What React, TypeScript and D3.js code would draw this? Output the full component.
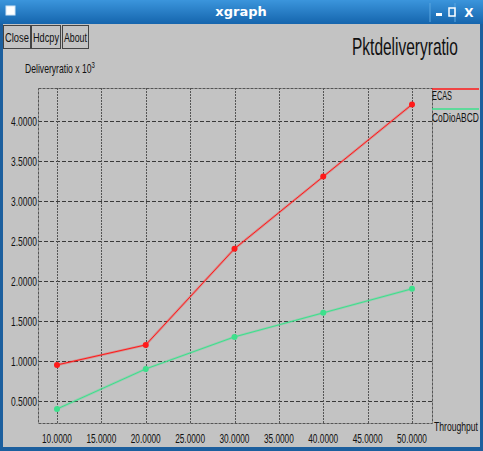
import React, { useLayoutEffect, useRef, useState } from "react";
import * as d3 from "d3";

const xTicks = [10, 15, 20, 25, 30, 35, 40, 45, 50];
const yTicks = [0.5, 1.0, 1.5, 2.0, 2.5, 3.0, 3.5, 4.0];
const xValues = [10, 20, 30, 40, 50];
const ecas = [0.95, 1.2, 2.4, 3.3, 4.2];
const codio = [0.4, 0.9, 1.3, 1.6, 1.9];
const seriesNames = ["ECAS", "CoDioABCD"];
const seriesColors = ["#ff1a1a", "#3de08c"];
const buttons = ["Close", "Hdcpy", "About"];

const W = 483;
const H = 451;
const FONT = "'Liberation Sans', Arial, sans-serif";

function NText(props: { x: number; y: number; w: number; fs: number; anchor?: string; children: React.ReactNode }) {
  const ref = useRef<SVGTextElement>(null);
  const [s, setS] = useState(1);
  useLayoutEffect(() => {
    if (ref.current) {
      const L = ref.current.getComputedTextLength();
      if (L > 0) setS(props.w / L);
    }
  }, [props.w]);
  const tx = props.anchor === "middle" ? props.x - props.w / 2 : props.x;
  return (
    <text ref={ref} transform={`translate(${tx},${props.y}) scale(${s},1)`} fontSize={props.fs} fill="#111">
      {props.children}
    </text>
  );
}

export default function App() {
  const plotL = 38, plotR = 432, plotT = 88, plotB = 423;
  const x = d3.scaleLinear().domain([10, 50]).range([57, 412]);
  const y = d3.scaleLinear().domain([0.5, 4.0]).range([401, 120.5]);
  const line = d3.line<number>().x((_, i) => x(xValues[i])).y((d) => y(d));
  const series = [ecas, codio];
  const btnX = [3, 31, 62];
  const btnW = [27, 29, 26];
  const btnTL = [24, 26, 23];
  const legTL = [20, 47];

  return (
    <svg width={W} height={H} style={{ position: "absolute", left: 0, top: 0, display: "block" }} fontFamily={FONT}>
      <defs>
        <linearGradient id="tb" x1="0" y1="0" x2="0" y2="1">
          <stop offset="0" stopColor="#3b95dc" />
          <stop offset="1" stopColor="#1565ad" />
        </linearGradient>
      </defs>
      {/* window frame */}
      <rect x={0} y={0} width={W} height={H} fill="#1c5f9e" />
      <rect x={0} y={0} width={W} height={24} fill="url(#tb)" />
      <rect x={3} y={24} width={477} height={423} fill="#c3c3c3" />
      {/* title bar */}
      <rect x={6} y={6} width={9} height={9} fill="#ffffff" stroke="#d0e4f5" />
      <text x={241} y={16} textAnchor="middle" fill="#ffffff" fontSize={13} fontWeight="bold" fontFamily="'DejaVu Sans', sans-serif">xgraph</text>
      <line x1={430} y1={3} x2={430} y2={22} stroke="#5aa6e0" />
      <line x1={455} y1={3} x2={455} y2={22} stroke="#5aa6e0" />
      <rect x={436} y={13} width={6} height={3} fill="#ffffff" />
      <rect x={449} y={8} width={6} height={8} fill="none" stroke="#ffffff" strokeWidth={1.5} />
      <text x={469} y={17} textAnchor="middle" fill="#ffffff" fontSize={12} fontWeight="bold" fontFamily="'DejaVu Sans', sans-serif">X</text>
      {/* buttons */}
      {buttons.map((b, i) => (
        <g key={b}>
          <rect x={btnX[i] + 0.5} y={25.5} width={btnW[i]} height={23} fill="#c3c3c3" stroke="#444" />
          <NText x={btnX[i] + btnW[i] / 2 + 0.5} y={42} w={btnTL[i]} fs={13} anchor="middle">{b}</NText>
        </g>
      ))}
      <NText x={352} y={55} w={106} fs={24}>Pktdeliveryratio</NText>
      <NText x={25} y={73} w={70} fs={13}>
        Deliveryratio x 10<tspan dy={-5} fontSize={9}>3</tspan>
      </NText>
      {/* grid */}
      {yTicks.map((t) => (
        <g key={"y" + t}>
          <line x1={plotL} x2={plotR} y1={Math.round(y(t)) + 0.5} y2={Math.round(y(t)) + 0.5} stroke="#3a3a3a" strokeDasharray="4,2" />
          <NText x={11} y={y(t) + 5} w={26} fs={12.5}>{t.toFixed(4)}</NText>
        </g>
      ))}
      {xTicks.map((t) => (
        <g key={"x" + t}>
          <line y1={plotT} y2={plotB} x1={Math.round(x(t)) + 0.5} x2={Math.round(x(t)) + 0.5} stroke="#555" strokeDasharray="2,1" />
          <NText x={x(t)} y={443} w={30} fs={12.5} anchor="middle">{t.toFixed(4)}</NText>
        </g>
      ))}
      <rect x={plotL + 0.5} y={plotT + 0.5} width={plotR - plotL} height={plotB - plotT} fill="none" stroke="#555" strokeDasharray="3,1" />
      <NText x={434} y={431} w={44} fs={12.5}>Throughput</NText>
      {/* series */}
      {series.map((s, k) => (
        <g key={seriesNames[k]}>
          <path d={line(s) || ""} fill="none" stroke={seriesColors[k]} strokeOpacity={0.3} strokeWidth={2.5} />
          <path d={line(s) || ""} fill="none" stroke={seriesColors[k]} strokeWidth={1} />
          {s.map((v, i) => (
            <circle key={i} cx={x(xValues[i])} cy={y(v)} r={3} fill={seriesColors[k]} />
          ))}
        </g>
      ))}
      {/* legend */}
      {seriesNames.map((n, k) => (
        <g key={n}>
          <line x1={432} x2={479} y1={89 + k * 20} y2={89 + k * 20} stroke={seriesColors[k]} strokeWidth={1.5} />
          <NText x={432} y={100 + k * 22} w={legTL[k]} fs={12.5}>{n}</NText>
        </g>
      ))}
    </svg>
  );
}
